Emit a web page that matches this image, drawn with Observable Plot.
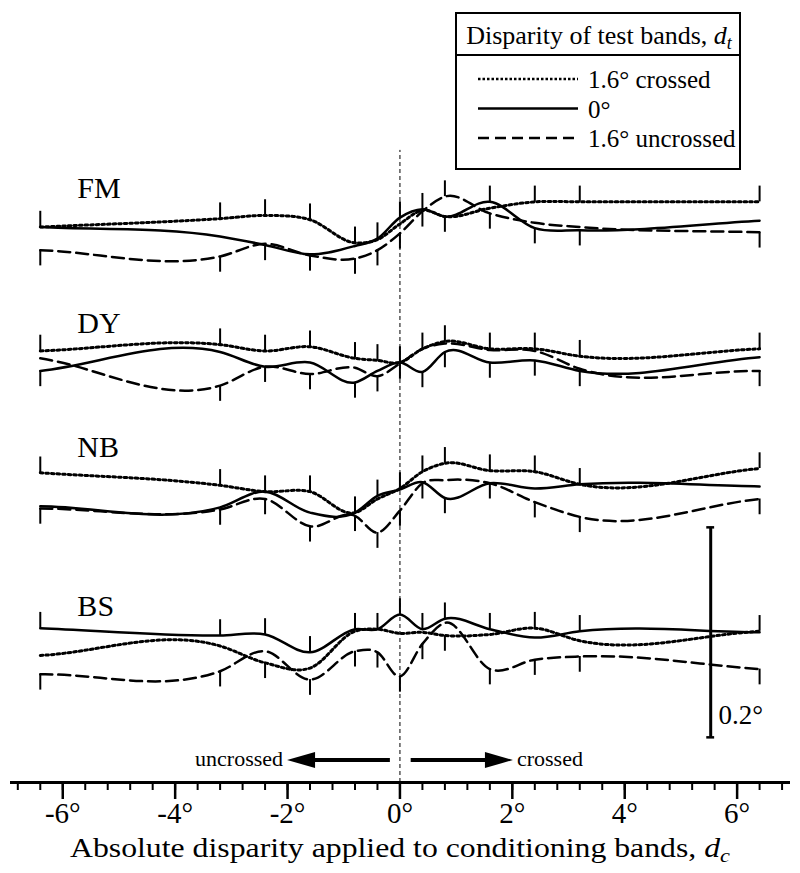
<!DOCTYPE html>
<html><head><meta charset="utf-8">
<script src="https://cdn.jsdelivr.net/npm/d3@7"></script>
<script src="https://cdn.jsdelivr.net/npm/@observablehq/plot@0.6"></script>
<style>
body{margin:0;background:#fff;}
#chart{width:800px;height:873px;}
#chart svg text{font-family:'Liberation Serif','Times New Roman',Times,serif !important;}
</style></head><body><div id="chart"></div>
<script>
// Conditioning-band disparities (deg) at which data were taken
const dc = [-6.4, -3.2, -2.4, -1.6, -0.8, -0.4, 0, 0.4, 0.8, 1.6, 2.4, 3.2, 6.4];
const subjects = ["FM", "DY", "NB", "BS"];
const panelOffset = [0.528, 0.400, 0.281, 0.130];
const conditions = ["1.6° crossed", "0°", "1.6° uncrossed"];

// values (deg) relative to each subject's baseline
const FM_crossed   = [0.001, 0.009, 0.012, 0.008, -0.014, -0.011, 0.004, 0.017, 0.011, 0.019, 0.025, 0.025, 0.025];
const FM_zero      = [0.001, -0.008, -0.016, -0.025, -0.017, -0.010, 0.010, 0.018, 0.011, 0.025, 0.000, -0.002, 0.007];
const FM_uncrossed = [-0.021, -0.027, -0.015, -0.026, -0.029, -0.021, -0.005, 0.016, 0.030, 0.014, 0.005, 0.001, -0.004];

const DY_crossed   = [0.011, 0.017, 0.011, 0.015, 0.004, 0.002, 0.000, 0.013, 0.020, 0.013, 0.013, 0.006, 0.013];
const DY_zero      = [-0.008, 0.010, -0.004, 0.000, -0.019, -0.008, 0.000, -0.009, 0.010, 0.000, 0.002, -0.008, 0.005];
const DY_uncrossed = [0.004, -0.022, -0.004, -0.011, -0.005, -0.013, -0.001, 0.013, 0.018, 0.012, 0.011, -0.006, -0.008];

const NB_crossed   = [0.014, 0.002, -0.004, -0.004, -0.024, -0.011, -0.001, 0.015, 0.023, 0.016, 0.015, 0.003, 0.018];
const NB_zero      = [-0.018, -0.019, -0.004, -0.024, -0.024, -0.008, -0.002, 0.005, -0.010, 0.004, -0.001, 0.003, 0.001];
const NB_uncrossed = [-0.020, -0.021, -0.011, -0.037, -0.027, -0.043, -0.022, 0.004, 0.007, 0.004, -0.014, -0.028, -0.011];

const BS_crossed   = [-0.009, 0.000, -0.016, -0.021, 0.014, 0.016, 0.012, 0.013, 0.010, 0.011, 0.017, 0.005, 0.014];
const BS_zero      = [0.017, 0.010, 0.011, -0.006, 0.016, 0.016, 0.030, 0.016, 0.026, 0.016, 0.008, 0.014, 0.013];
const BS_uncrossed = [-0.027, -0.024, -0.005, -0.032, -0.005, -0.006, -0.029, 0.002, 0.022, -0.022, -0.013, -0.010, -0.022];

const errorBar = 0.015;      // length of the one-sided error bars (deg)
const scaleBarLength = 0.2;  // deg
const xTickValues = [-6, -4, -2, 0, 2, 4, 6];
const xTickLabels = ["-6°", "-4°", "-2°", "0°", "2°", "4°", "6°"];
const xMinorTicks = [-6.8,-6.4,-6,-5.6,-5.2,-4.8,-4.4,-4,-3.6,-3.2,-2.8,-2.4,-2,-1.6,-1.2,-0.8,-0.4,0,0.4,0.8,1.2,1.6,2,2.4,2.8,3.2,3.6,4,4.4,4.8,5.2,5.6,6,6.4,6.8];

const series = {
  FM: [FM_crossed, FM_zero, FM_uncrossed],
  DY: [DY_crossed, DY_zero, DY_uncrossed],
  NB: [NB_crossed, NB_zero, NB_uncrossed],
  BS: [BS_crossed, BS_zero, BS_uncrossed]
};

const rows = [];
const bars = [];
subjects.forEach((s, si) => {
  series[s].forEach((arr, ci) => {
    arr.forEach((v, i) => rows.push({subject: s, cond: conditions[ci], x: dc[i], y: panelOffset[si] + v}));
  });
  dc.forEach((x, i) => {
    const vals = series[s].map(a => a[i] + panelOffset[si]);
    const top = Math.max(...vals), bot = Math.min(...vals);
    bars.push({x, y1: top, y2: top + errorBar});
    bars.push({x, y1: bot, y2: bot - errorBar});
  });
});

// Custom d3-style curve: smooth cubic Hermite through the points with
// three-point (Bessel) tangents, suited to non-uniformly spaced x
function SmoothX(context) { this._context = context; }
SmoothX.prototype = {
  areaStart() { this._line = 0; },
  areaEnd() { this._line = NaN; },
  lineStart() { this._x = []; this._y = []; },
  point(x, y) { this._x.push(+x); this._y.push(+y); },
  lineEnd() {
    const X = this._x, Y = this._y, n = X.length, c = this._context;
    if (!n) return;
    if (this._line || (this._line !== 0 && n === 1)) c.lineTo(X[0], Y[0]); else c.moveTo(X[0], Y[0]);
    if (n === 2) c.lineTo(X[1], Y[1]);
    else if (n > 2) {
      const h = [], s = [], m = new Array(n);
      for (let i = 0; i < n - 1; i++) { h.push(X[i + 1] - X[i]); s.push((Y[i + 1] - Y[i]) / h[i]); }
      m[0] = s[0]; m[n - 1] = s[n - 2];
      for (let i = 1; i < n - 1; i++) m[i] = (h[i] * s[i - 1] + h[i - 1] * s[i]) / (h[i - 1] + h[i]);
      for (let i = 0; i < n - 1; i++) {
        const hi = h[i];
        c.bezierCurveTo(X[i] + hi / 3, Y[i] + m[i] * hi / 3, X[i + 1] - hi / 3, Y[i + 1] - m[i + 1] * hi / 3, X[i + 1], Y[i + 1]);
      }
    }
    if (this._line || (this._line !== 0 && n === 1)) c.closePath();
    this._line = 1 - this._line;
  }
};
const curveSmoothX = (context) => new SmoothX(context);

const serif = "'Liberation Serif', 'Times New Roman', Times, serif";
const pxPerDeg = 1050;

const svg = Plot.plot({
  width: 800, height: 873,
  marginLeft: 10, marginRight: 10, marginTop: 0, marginBottom: 91,
  x: {domain: [-6.93, 6.95]},
  y: {domain: [0, 782 / pxPerDeg], axis: null},
  style: {fontFamily: serif, background: "white", color: "black"},
  marks: [
    Plot.ruleX([0], {y1: 0, y2: 0.602, stroke: "black", strokeWidth: 1, strokeDasharray: "4,3"}),
    Plot.line(rows.filter(d => d.cond === conditions[0]), {x: "x", y: "y", z: "subject", curve: curveSmoothX, stroke: "black", strokeWidth: 3, strokeDasharray: "2.6,3"}),
    Plot.line(rows.filter(d => d.cond === conditions[1]), {x: "x", y: "y", z: "subject", curve: curveSmoothX, stroke: "black", strokeWidth: 2.5}),
    Plot.line(rows.filter(d => d.cond === conditions[2]), {x: "x", y: "y", z: "subject", curve: curveSmoothX, stroke: "black", strokeWidth: 2.5, strokeDasharray: "12,6"}),
    Plot.ruleX(bars, {x: "x", y1: "y1", y2: "y2", stroke: "black", strokeWidth: 2}),
    Plot.text(subjects, {x: -5.74, y: (d, i) => panelOffset[i] + 30 / pxPerDeg, text: d => d, textAnchor: "start", lineAnchor: "bottom", fontSize: 30, fill: "black"}),
    // scale bar
    Plot.ruleX([5.53], {y1: 0.043, y2: 0.043 + scaleBarLength, stroke: "black", strokeWidth: 3}),
    Plot.ruleY([0.043, 0.043 + scaleBarLength], {x1: 5.46, x2: 5.60, stroke: "black", strokeWidth: 2.5}),
    Plot.text([scaleBarLength + "°"], {x: 5.67, y: 0.056, text: d => d, textAnchor: "start", lineAnchor: "bottom", fontSize: 27, fill: "black"}),
    // x axis
    Plot.ruleY([0], {stroke: "black", strokeWidth: 3}),
    Plot.axisX(xMinorTicks, {anchor: "bottom", tickSize: 8, tickFormat: () => "", strokeWidth: 2, label: null}),
    Plot.axisX(xTickValues, {anchor: "bottom", tickSize: 17, tickPadding: 3, strokeWidth: 2.5,
      tickFormat: d => xTickLabels[xTickValues.indexOf(d)], fontSize: 29, fill: "black", label: null})
  ]
});
document.getElementById("chart").appendChild(svg);

const sx = svg.scale("x");
const g = d3.select(svg).append("g").attr("font-family", serif).attr("fill", "black");

// axis title
const title = g.append("text").attr("x", 400).attr("y", 857).attr("text-anchor", "middle").attr("font-size", 27)
  .attr("textLength", 660).attr("lengthAdjust", "spacingAndGlyphs");
title.append("tspan").text("Absolute disparity applied to conditioning bands, ");
title.append("tspan").attr("font-style", "italic").text("d");
title.append("tspan").attr("font-style", "italic").attr("font-size", 19).attr("dy", 5).text("c");

// direction arrows
const ay = 760;
function arrow(from, to, label, anchor) {
  const x0 = sx.apply(from), x1 = sx.apply(to);
  const dir = Math.sign(x1 - x0);
  g.append("line").attr("x1", x0).attr("x2", x1 - dir * 24).attr("y1", ay).attr("y2", ay)
    .attr("stroke", "black").attr("stroke-width", 4);
  g.append("path").attr("d", `M${x1},${ay} L${x1 - dir * 28},${ay - 8} L${x1 - dir * 28},${ay + 8} Z`).attr("fill", "black");
  g.append("text").attr("x", x1 + dir * 4).attr("y", ay + 6).attr("text-anchor", anchor).attr("font-size", 22).text(label);
}
arrow(-0.17, -2.0, "uncrossed", "end");
arrow(0.2, 2.02, "crossed", "start");

// legend
const L = g.append("g");
L.append("rect").attr("x", 456).attr("y", 13).attr("width", 284).attr("height", 156)
  .attr("fill", "white").attr("stroke", "black").attr("stroke-width", 2);
L.append("line").attr("x1", 456).attr("x2", 740).attr("y1", 55).attr("y2", 55).attr("stroke", "black").attr("stroke-width", 2);
const lt = L.append("text").attr("x", 599).attr("y", 44).attr("text-anchor", "middle").attr("font-size", 26);
lt.append("tspan").text("Disparity of test bands, ");
lt.append("tspan").attr("font-style", "italic").text("d");
lt.append("tspan").attr("font-style", "italic").attr("font-size", 18).attr("dy", 5).text("t");
const legendStyles = [
  {dash: "2.5,2", w: 2.5},
  {dash: null, w: 2.5},
  {dash: "11,6", w: 2.5}
];
conditions.forEach((c, i) => {
  const y = 79 + i * 29.5;
  const ln = L.append("line").attr("x1", 478).attr("x2", 578).attr("y1", y).attr("y2", y)
    .attr("stroke", "black").attr("stroke-width", legendStyles[i].w);
  if (legendStyles[i].dash) ln.attr("stroke-dasharray", legendStyles[i].dash);
  L.append("text").attr("x", 588).attr("y", y + 9).attr("text-anchor", "start").attr("font-size", 25).text(c);
});
</script></body></html>
